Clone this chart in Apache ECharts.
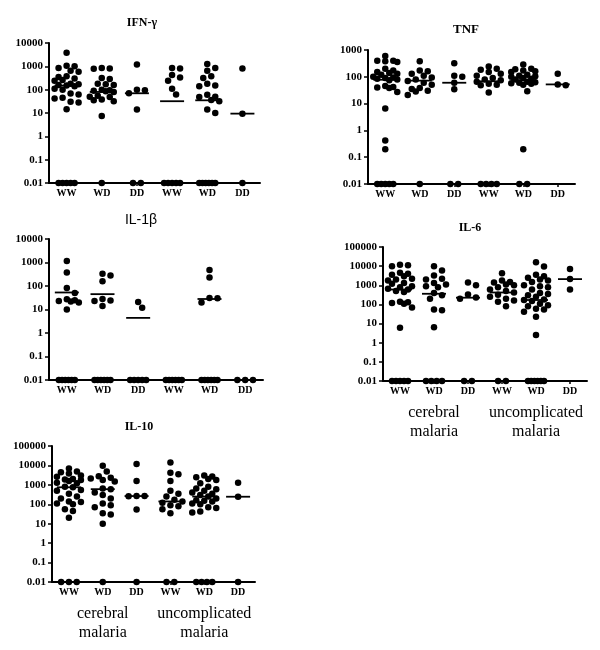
<!DOCTYPE html>
<html><head><meta charset="utf-8">
<script src="https://cdn.jsdelivr.net/npm/echarts@6/dist/echarts.min.js"></script>
<style>html,body{margin:0;padding:0;background:#fff}#c{width:600px;height:650px}</style>
</head><body><div id="c"></div>
<script>
// ---------------- DATA ----------------
const groups = ['WW', 'WD', 'DD', 'WW', 'WD', 'DD'];
const outcomeLabels = ['cerebral\nmalaria', 'uncomplicated\nmalaria'];

// IFN-gamma (detectable values per group; ND = count of undetectable, plotted at axis floor)
const IFN_WW_CM = [3800, 1050, 1000, 850, 650, 580, 380, 350, 300, 260, 240, 180, 170, 160, 150, 140, 110, 100, 68, 62, 45, 42, 30, 28, 14.5];
const IFN_WD_CM = [850, 800, 780, 320, 290, 180, 170, 160, 100, 95, 90, 85, 80, 55, 50, 48, 38, 35, 32, 7.4];
const IFN_DD_CM = [1200, 100, 95, 70, 14];
const IFN_WW_UM = [850, 800, 420, 330, 240, 110, 62];
const IFN_WD_UM = [1250, 850, 650, 380, 320, 180, 150, 140, 60, 50, 48, 36, 32, 14, 10];
const IFN_DD_UM = [800, 9.4];
const IFN_ND = [5, 1, 2, 5, 6, 1];
const IFN_MED = [150, 80, 70, 32, 35, 9.4];

// TNF
const TNF_WW_CM = [600, 400, 400, 380, 360, 200, 170, 150, 140, 130, 120, 100, 95, 90, 85, 80, 75, 45, 42, 40, 38, 27, 6.5, 0.42, 0.2];
const TNF_WD_CM = [380, 170, 160, 130, 110, 95, 80, 70, 60, 50, 38, 35, 30, 28, 21];
const TNF_DD_CM = [320, 110, 100, 60, 34];
const TNF_WW_UM = [240, 200, 185, 150, 130, 110, 90, 80, 75, 65, 55, 50, 48, 26];
const TNF_WD_UM = [290, 200, 190, 170, 160, 150, 120, 110, 105, 100, 90, 85, 80, 65, 62, 60, 58, 55, 50, 29, 0.2];
const TNF_DD_UM = [130, 52, 48];
const TNF_ND = [5, 1, 2, 4, 2, 0];
const TNF_MED = [78, 72, 60, 68, 75, 52];

// IL-1beta
const IL1_WW_CM = [1150, 380, 82, 50, 27, 25, 23, 22, 20, 10];
const IL1_WD_CM = [330, 280, 160, 28, 24, 23, 14];
const IL1_DD_CM = [21, 12];
const IL1_WW_UM = [];
const IL1_WD_UM = [480, 230, 31, 30, 20];
const IL1_DD_UM = [];
const IL1_ND = [6, 6, 5, 6, 6, 3];
const IL1_MED = [53, 45, 4.4, null, 28, null];

// IL-6
const IL6_WW_CM = [12000, 11000, 10000, 4500, 4000, 3500, 3000, 2200, 2000, 1800, 1300, 1200, 900, 800, 650, 600, 500, 450, 140, 130, 120, 110, 70, 6];
const IL6_WD_CM = [10000, 6000, 3200, 2200, 2000, 1300, 1100, 900, 800, 400, 300, 200, 55, 50, 6.5];
const IL6_DD_CM = [1400, 1000, 330, 230, 200];
const IL6_WW_UM = [4200, 1800, 1500, 1400, 1100, 1000, 800, 600, 500, 420, 320, 250, 200, 160, 140, 80];
const IL6_WD_UM = [16000, 9500, 3500, 3000, 2500, 2000, 1800, 1500, 1000, 900, 800, 600, 400, 350, 300, 250, 180, 170, 150, 110, 90, 80, 60, 55, 42, 23, 2.5];
const IL6_DD_UM = [7000, 2100, 600];
const IL6_ND = [5, 4, 2, 2, 6, 0];
const IL6_MED = [600, 360, 225, 420, 170, 2100];

// IL-10
const IL10_WW_CM = [7000, 4800, 4500, 3800, 3000, 2600, 2000, 1900, 1800, 1600, 1300, 1200, 800, 750, 550, 500, 350, 250, 200, 140, 130, 110, 100, 55, 45, 20];
const IL10_WD_CM = [9500, 4800, 2800, 2300, 2100, 1800, 1500, 650, 600, 400, 300, 200, 110, 90, 70, 35, 30, 10];
const IL10_DD_CM = [12000, 1600, 270, 265, 260, 54];
const IL10_WW_UM = [14000, 4200, 3500, 1600, 500, 350, 250, 170, 140, 120, 90, 80, 55, 35];
const IL10_WD_UM = [3000, 2700, 2500, 2000, 1800, 1200, 800, 650, 600, 500, 400, 350, 300, 250, 200, 160, 150, 140, 110, 100, 70, 65, 42, 38];
const IL10_DD_UM = [1300, 245];
const IL10_ND = [3, 1, 1, 2, 4, 1];
const IL10_MED = [750, 600, 265, 140, 250, 245];

// ---------------- LAYOUT ----------------
const SERIF = '"Liberation Serif","Times New Roman",serif';
const SANS = '"Liberation Sans",Arial,sans-serif';
const panels = [
  { title: 'IFN-\u03b3', tFont: 'bold 12px ' + SERIF, tx: 142, ty: 23,
    data: [IFN_WW_CM, IFN_WD_CM, IFN_DD_CM, IFN_WW_UM, IFN_WD_UM, IFN_DD_UM], nd: IFN_ND, med: IFN_MED,
    min: 0.01, max: 10000, grid: { left: 49, top: 43, width: 211, height: 140 }, outcome: false },
  { title: 'TNF', tFont: 'bold 13px ' + SERIF, tx: 466, ty: 30,
    data: [TNF_WW_CM, TNF_WD_CM, TNF_DD_CM, TNF_WW_UM, TNF_WD_UM, TNF_DD_UM], nd: TNF_ND, med: TNF_MED,
    min: 0.01, max: 1000, grid: { left: 368, top: 50, width: 207, height: 134 }, outcome: false },
  { title: 'IL-1\u03b2', tFont: '14px ' + SANS, tx: 141, ty: 220,
    data: [IL1_WW_CM, IL1_WD_CM, IL1_DD_CM, IL1_WW_UM, IL1_WD_UM, IL1_DD_UM], nd: IL1_ND, med: IL1_MED,
    min: 0.01, max: 10000, grid: { left: 49, top: 239, width: 214, height: 141 }, outcome: false },
  { title: 'IL-6', tFont: 'bold 12px ' + SERIF, tx: 470, ty: 228,
    data: [IL6_WW_CM, IL6_WD_CM, IL6_DD_CM, IL6_WW_UM, IL6_WD_UM, IL6_DD_UM], nd: IL6_ND, med: IL6_MED,
    min: 0.01, max: 100000, grid: { left: 383, top: 247, width: 204, height: 134 }, outcome: true },
  { title: 'IL-10', tFont: 'bold 12px ' + SERIF, tx: 139, ty: 427,
    data: [IL10_WW_CM, IL10_WD_CM, IL10_DD_CM, IL10_WW_UM, IL10_WD_UM, IL10_DD_UM], nd: IL10_ND, med: IL10_MED,
    min: 0.01, max: 100000, grid: { left: 52, top: 446, width: 203, height: 136 }, outcome: true }
];

const DOT = 6.5, GAP = 6.5, STEP = 4, KMAX = 3;

// column-scatter arrangement (beeswarm) computed in pixel space
function swarm(vals, nd, lo, pxDec, catPx) {
  const out = [], placed = [];
  const ladder = [0];
  for (let k = 1; k <= KMAX; k++) ladder.push(k * STEP, -k * STEP);
  vals.slice().sort((a, b) => b - a).forEach(v => {
    const y = Math.log10(v / lo) * pxDec;
    let best = 0, bestScore = -1;
    for (const o of ladder) {
      let m = Infinity;
      for (const p of placed) { const d = Math.hypot(p[0] - o, p[1] - y); if (d < m) m = d; }
      if (m >= GAP) { best = o; break; }
      if (m > bestScore) { bestScore = m; best = o; }
    }
    placed.push([best, y]);
    out.push([best / catPx, v]);
  });
  const sp = nd > 1 ? Math.min(1.2 * DOT, 16 / (nd - 1)) : 0;
  for (let i = 0; i < nd; i++) out.push([((i - (nd - 1) / 2) * sp) / catPx, lo]);
  return out;
}

const fmt = v => {
  const p = Math.round(Math.log10(v));
  return p >= 0 ? String(Math.pow(10, p)) : Math.pow(10, p).toFixed(-p);
};

const grid = [], xAxis = [], yAxis = [], series = [], graphic = [];
panels.forEach((P, pi) => {
  grid.push(Object.assign({ containLabel: false }, P.grid));
  xAxis.push({
    gridIndex: pi, type: 'category', data: groups, position: 'bottom', boundaryGap: true,
    axisLine: { lineStyle: { color: '#000', width: 2 } },
    axisTick: { show: true, alignWithLabel: true, length: 3, lineStyle: { color: '#000', width: 1.5 } },
    axisLabel: { color: '#000', fontFamily: SERIF, fontWeight: 'bold', fontSize: 10, margin: 5 },
    splitLine: { show: false }
  });
  const valIdx = xAxis.length;
  xAxis.push({ gridIndex: pi, type: 'value', min: 0, max: 6, position: 'top', show: false });
  if (P.outcome) {
    xAxis.push({
      gridIndex: pi, type: 'category', data: outcomeLabels, position: 'bottom', boundaryGap: true,
      axisLine: { show: false }, axisTick: { show: false },
      axisLabel: { color: '#000', fontFamily: SERIF, fontSize: 16, lineHeight: 19, margin: 22, interval: 0 }
    });
  }
  yAxis.push({
    gridIndex: pi, type: 'log', logBase: 10, min: P.min, max: P.max, splitNumber: 8,
    axisLine: { show: true, lineStyle: { color: '#000', width: 2 } },
    axisTick: { show: true, length: 4, lineStyle: { color: '#000', width: 1.5 } },
    axisLabel: { color: '#000', fontFamily: SERIF, fontWeight: 'bold', fontSize: 11, margin: 6, formatter: fmt },
    splitLine: { show: false }, minorTick: { show: false }
  });
  const decades = Math.log10(P.max / P.min);
  const pxDec = P.grid.height / decades, catPx = P.grid.width / 6;
  const pts = [];
  P.data.forEach((vals, g) => {
    swarm(vals, P.nd[g], P.min, pxDec, catPx).forEach(([o, v]) => pts.push([g + 0.5 + o, v]));
  });
  series.push({
    type: 'scatter', xAxisIndex: valIdx, yAxisIndex: pi, data: pts, symbol: 'circle', symbolSize: DOT,
    itemStyle: { color: '#000', opacity: 1 }, clip: false, silent: true, z: 3
  });
  const medPts = [];
  P.med.forEach((m, g) => { if (m != null) medPts.push([g + 0.5, m]); });
  series.push({
    type: 'scatter', xAxisIndex: valIdx, yAxisIndex: pi, data: medPts, symbol: 'rect', symbolSize: [24, 1.8],
    itemStyle: { color: '#000', opacity: 1 }, clip: false, silent: true, z: 4
  });
  graphic.push({
    type: 'text', x: P.tx, y: P.ty,
    style: { text: P.title, font: P.tFont, fill: '#000', align: 'center', verticalAlign: 'middle' }
  });
});

const chart = echarts.init(document.getElementById('c'), null, { renderer: 'canvas' });
chart.setOption({ animation: false, backgroundColor: '#fff', grid, xAxis, yAxis, series, graphic });
</script>
</body></html>
